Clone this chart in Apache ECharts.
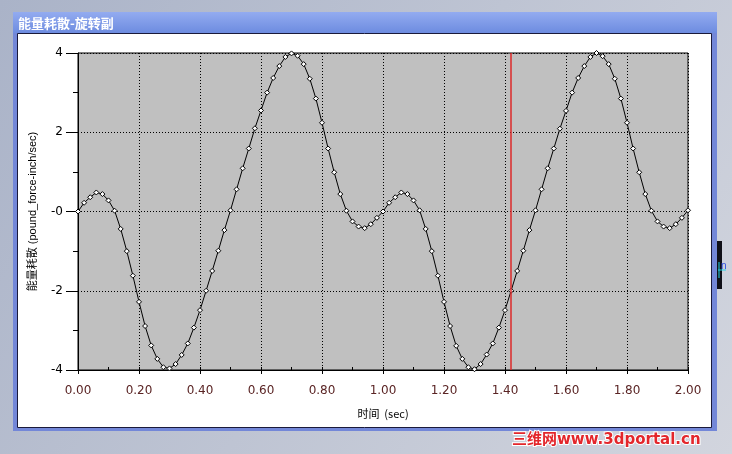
<!DOCTYPE html>
<html>
<head>
<meta charset="utf-8">
<script src="https://cdn.jsdelivr.net/npm/echarts@6/dist/echarts.min.js"></script>
<style>html,body{margin:0;padding:0;background:#b8bece;}#c{width:732px;height:454px;}</style>
</head>
<body>
<div id="c"></div>
<script>
// ---- data ----
var times = [0.00,0.02,0.04,0.06,0.08,0.10,0.12,0.14,0.16,0.18,
             0.20,0.22,0.24,0.26,0.28,0.30,0.32,0.34,0.36,0.38,
             0.40,0.42,0.44,0.46,0.48,0.50,0.52,0.54,0.56,0.58,
             0.60,0.62,0.64,0.66,0.68,0.70,0.72,0.74,0.76,0.78,
             0.80,0.82,0.84,0.86,0.88,0.90,0.92,0.94,0.96,0.98,
             1.00,1.02,1.04,1.06,1.08,1.10,1.12,1.14,1.16,1.18,
             1.20,1.22,1.24,1.26,1.28,1.30,1.32,1.34,1.36,1.38,
             1.40,1.42,1.44,1.46,1.48,1.50,1.52,1.54,1.56,1.58,
             1.60,1.62,1.64,1.66,1.68,1.70,1.72,1.74,1.76,1.78,
             1.80,1.82,1.84,1.86,1.88,1.90,1.92,1.94,1.96,1.98,
             2.00];
var power = [0.00,0.22,0.36,0.48,0.44,0.28,0.02,-0.44,-1.00,-1.62,
             -2.28,-2.89,-3.38,-3.72,-3.93,-3.96,-3.85,-3.62,-3.33,-2.93,
             -2.49,-2.00,-1.50,-0.99,-0.47,0.03,0.56,1.09,1.59,2.10,
             2.55,3.00,3.37,3.67,3.90,3.99,3.93,3.72,3.35,2.85,
             2.24,1.59,0.99,0.44,0.02,-0.25,-0.38,-0.42,-0.32,-0.16,
             0.00,0.22,0.36,0.48,0.44,0.28,0.03,-0.44,-1.00,-1.62,
             -2.28,-2.89,-3.39,-3.72,-3.93,-3.98,-3.85,-3.61,-3.33,-2.93,
             -2.49,-2.00,-1.50,-0.99,-0.47,0.03,0.56,1.09,1.59,2.09,
             2.54,3.00,3.37,3.67,3.90,4.00,3.92,3.72,3.35,2.85,
             2.24,1.59,0.99,0.44,0.02,-0.25,-0.38,-0.42,-0.32,-0.16,
             0.03];
var cursorTime = 1.4175;
var xTicks = {min: 0, max: 2, step: 0.2};
var yTicks = {min: -4, max: 4, step: 2};
var titleText = '能量耗散-旋转副';
var xName = '时间  (sec)';
var yName = '能量耗散 (pound_force-inch/sec)';
var watermark = '三维网www.3dportal.cn';

var pts = times.map(function (t, i) { return [t, power[i]]; });
var FONT = '"Liberation Sans", Arial, "Noto Sans CJK SC", sans-serif';
var CJK = '"Noto Sans CJK SC", "Liberation Sans", sans-serif';

var chart = echarts.init(document.getElementById('c'), null, {renderer: 'canvas'});
chart.setOption({
  animation: false,
  backgroundColor: {type: 'linear', x: 0, y: 0, x2: 1, y2: 1,
    colorStops: [{offset: 0, color: '#aab3c8'}, {offset: 1, color: '#d2d5de'}]},
  graphic: [
    {type: 'rect', z: -10, shape: {x: 13, y: 12, width: 704, height: 419},
      style: {fill: '#7387d8'}},
    {type: 'rect', z: -9, shape: {x: 13, y: 12, width: 704, height: 21},
      style: {fill: {type: 'linear', x: 0, y: 0, x2: 0, y2: 1,
        colorStops: [{offset: 0, color: '#93abf0'}, {offset: 1, color: '#6d8ce0'}]}}},
    {type: 'rect', z: -8, shape: {x: 17.5, y: 33.5, width: 694, height: 394},
      style: {fill: '#ffffff', stroke: '#1a1a3a', lineWidth: 1}},
    {type: 'text', z: 5, x: 18, y: 23,
      style: {text: titleText, fill: '#ffffff', font: 'bold 13px ' + CJK, verticalAlign: 'middle'}},
    {type: 'text', z: 5, x: 512, y: 440,
      style: {text: watermark, fill: '#e3262b', stroke: '#ffffff', lineWidth: 2,
        font: 'bold 15px "DejaVu Sans", ' + CJK, verticalAlign: 'middle'}},
    {type: 'rect', z: 5, shape: {x: 717, y: 241, width: 5, height: 48}, style: {fill: '#101018'}},
    {type: 'line', z: 6, shape: {x1: 718, y1: 270, x2: 726, y2: 270}, style: {stroke: '#22d6e6', lineWidth: 1}},
    {type: 'line', z: 6, shape: {x1: 719, y1: 262, x2: 719, y2: 278}, style: {stroke: '#22d6e6', lineWidth: 1}},
    {type: 'text', z: 6, x: 721, y: 266,
      style: {text: 'n', fill: '#3050e0', font: '10px ' + FONT, verticalAlign: 'middle'}}
  ],
  grid: {left: 78, top: 53, width: 610, height: 317, show: true,
    backgroundColor: '#c0c0c0', borderColor: '#000', borderWidth: 1},
  xAxis: [{
    type: 'value', min: xTicks.min, max: xTicks.max, interval: xTicks.step,
    name: xName, nameLocation: 'middle', nameGap: 38,
    nameTextStyle: {color: '#000', fontSize: 11, fontFamily: CJK},
    axisLine: {onZero: false, lineStyle: {color: '#000', width: 1}},
    axisTick: {show: true, inside: false, length: 4, lineStyle: {color: '#000'}},
    axisLabel: {color: '#5a2424', fontSize: 12, fontFamily: '"DejaVu Sans", sans-serif', margin: 15,
      formatter: function (v) { return v.toFixed(2); }},
    splitLine: {show: true, lineStyle: {color: '#000', type: [1, 2], width: 1}}
  }, {
    type: 'value', min: xTicks.min, max: xTicks.max, interval: xTicks.step / 2, position: 'bottom',
    axisLine: {show: false, onZero: false}, axisLabel: {show: false}, splitLine: {show: false},
    axisTick: {show: true, inside: true, length: 3, lineStyle: {color: '#000'}}
  }],
  yAxis: {
    type: 'value', min: yTicks.min, max: yTicks.max, interval: yTicks.step,
    name: yName, nameLocation: 'middle', nameGap: 40,
    nameTextStyle: {color: '#000', fontSize: 11, fontFamily: FONT},
    axisLine: {onZero: false, lineStyle: {color: '#000', width: 1}},
    axisTick: {show: true, inside: false, length: 12, lineStyle: {color: '#000'}},
    minorTick: {show: true, splitNumber: 2, length: 5, lineStyle: {color: '#000'}},
    axisLabel: {color: '#000', fontSize: 12, fontFamily: '"DejaVu Sans", sans-serif', margin: 15,
      formatter: function (v) { return v === 0 ? '-0' : String(v); }},
    splitLine: {show: true, lineStyle: {color: '#000', type: [1, 2], width: 1}}
  },
  series: [{
    type: 'line', data: pts, xAxisIndex: 0,
    symbol: 'diamond', symbolSize: 5, showAllSymbol: true,
    lineStyle: {color: '#000', width: 1},
    itemStyle: {color: '#ffffff', borderColor: '#000', borderWidth: 1},
    markLine: {silent: true, symbol: ['none', 'none'], label: {show: false},
      lineStyle: {color: '#dd2a2a', width: 1.5, type: 'solid'},
      data: [{xAxis: cursorTime}]}
  }]
});
</script>
</body>
</html>
